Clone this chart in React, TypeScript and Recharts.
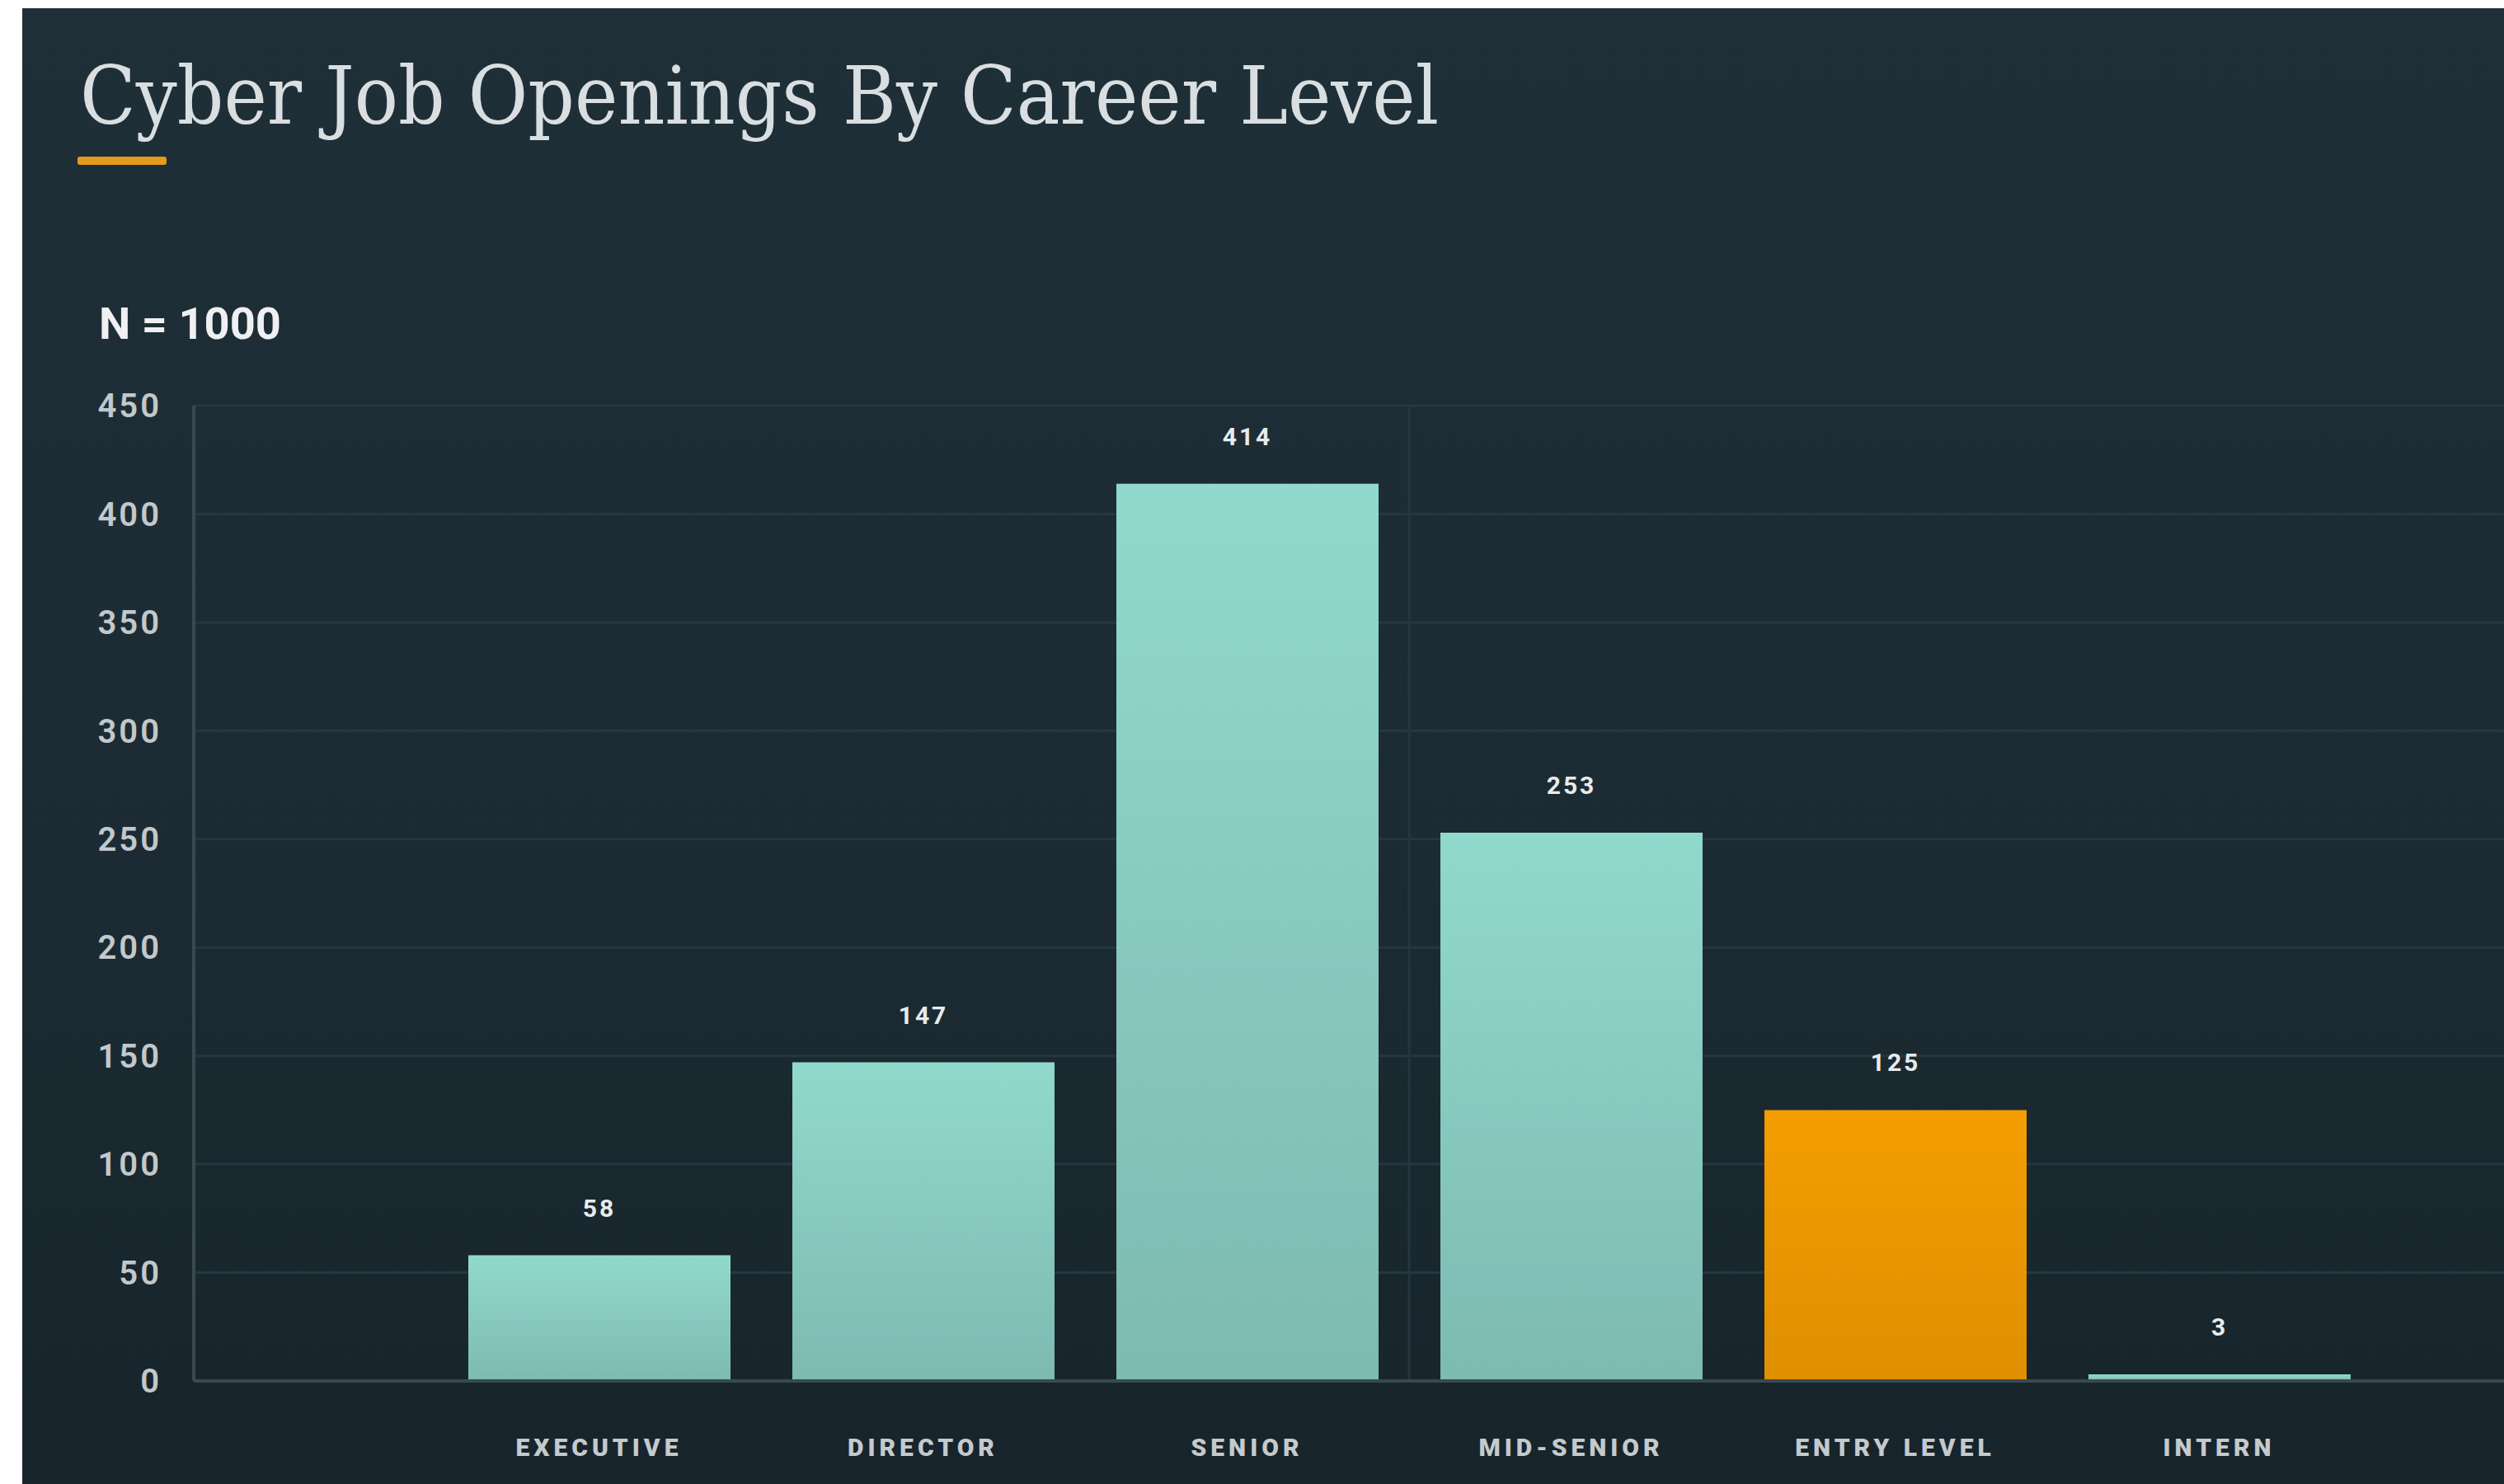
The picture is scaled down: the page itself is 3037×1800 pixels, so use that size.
import { Bar, BarChart, CartesianGrid, Cell, LabelList, ReferenceLine, XAxis, YAxis } from "recharts"

const categories = ["EXECUTIVE", "DIRECTOR", "SENIOR", "MID-SENIOR", "ENTRY LEVEL", "INTERN"]
const openings = [58, 147, 414, 253, 125, 3]
const highlighted = "ENTRY LEVEL"
const yTicks = [0, 50, 100, 150, 200, 250, 300, 350, 400, 450]
const dividerAt = "MID-SENIOR"

const data = categories.map((level, i) => ({ level, openings: openings[i] }))

// layout, in panel pixels
const PANEL_W = 3010
const PANEL_H = 1790
const AXIS_W = 208
const BAND = 393
const PAD_LEFT = 295
const PAD_RIGHT = 200
const CHART_W = AXIS_W + PAD_LEFT + BAND * categories.length + PAD_RIGHT
const PLOT_TOP = 482
const XAXIS_H = 125

export default function App() {
  return (
    <div style={{ position: "absolute", left: 0, top: 0, width: 3037, height: 1800, background: "#ffffff" }}>
      <div
        style={{
          position: "absolute",
          left: 27,
          top: 10,
          width: PANEL_W,
          height: PANEL_H,
          overflow: "hidden",
          background: "linear-gradient(180deg, #1f2f37 0%, #1c2b33 60%, #17242b 100%)",
        }}
      >
        <BarChart
          width={CHART_W}
          height={PANEL_H}
          data={data}
          margin={{ top: PLOT_TOP, right: 0, bottom: 0, left: 0 }}
          barSize={318}
        >
          <defs>
            <linearGradient id="tealFill" x1="0" y1="0" x2="0" y2="1">
              <stop offset="0%" stopColor="#91d9cd" />
              <stop offset="100%" stopColor="#7dbab2" />
            </linearGradient>
            <linearGradient id="orangeFill" x1="0" y1="0" x2="0" y2="1">
              <stop offset="0%" stopColor="#f39d00" />
              <stop offset="100%" stopColor="#df8f00" />
            </linearGradient>
          </defs>
          <CartesianGrid vertical={false} stroke="#27373f" strokeWidth={3} />
          <ReferenceLine x={dividerAt} position="start" stroke="#26363e" strokeWidth={3} />
          <XAxis
            dataKey="level"
            height={XAXIS_H}
            padding={{ left: PAD_LEFT, right: PAD_RIGHT }}
            axisLine={{ stroke: "#3a4950", strokeWidth: 4 }}
            tickLine={false}
            tickSize={0}
            tickMargin={70}
            interval={0}
            tick={{ fill: "#c4cacd", fontSize: 30, fontWeight: 900, fontFamily: "Roboto", letterSpacing: 5 }}
          />
          <YAxis
            width={AXIS_W}
            domain={[0, 450]}
            ticks={yTicks}
            axisLine={{ stroke: "#3a4950", strokeWidth: 4 }}
            tickLine={false}
            tickSize={0}
            tickMargin={39}
            tick={{ fill: "#c2c8cb", fontSize: 40, fontWeight: 600, fontFamily: "Roboto", letterSpacing: 3 }}
          />
          <Bar dataKey="openings" isAnimationActive={false}>
            {data.map((d) => (
              <Cell key={d.level} fill={d.level === highlighted ? "url(#orangeFill)" : "url(#tealFill)"} />
            ))}
            <LabelList
              dataKey="openings"
              position="top"
              offset={47}
              fill="#e8ebec"
              fontSize={30}
              fontWeight={700}
              fontFamily="Roboto"
              letterSpacing={3}
            />
          </Bar>
        </BarChart>

        <svg
          width={2000}
          height={440}
          style={{ position: "absolute", left: 0, top: 0, pointerEvents: "none" }}
        >
          <text
            x={70}
            y={140}
            fontFamily="DejaVu Serif"
            fontSize={98}
            fill="#d9dee0"
            textLength={1648}
            lengthAdjust="spacingAndGlyphs"
          >
            Cyber Job Openings By Career Level
          </text>
          <rect x={67} y={180} width={108} height={10} rx={3} fill="#e39b1d" />
          <text
            x={93}
            y={401}
            fontFamily="Roboto"
            fontWeight={700}
            fontSize={54}
            fill="#eef0f1"
            textLength={221}
            lengthAdjust="spacingAndGlyphs"
          >
            N = 1000
          </text>
        </svg>
      </div>
    </div>
  )
}
